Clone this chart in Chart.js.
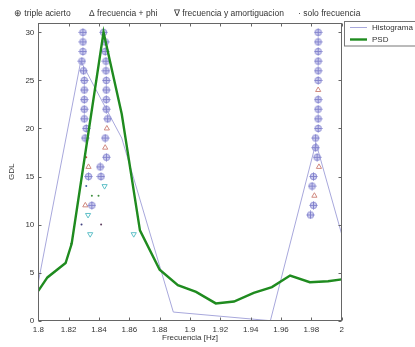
<!DOCTYPE html>
<html>
<head>
<meta charset="utf-8">
<script src="https://cdn.jsdelivr.net/npm/chart.js@4.4.0/dist/chart.umd.min.js"></script>
<style>
  html, body { margin: 0; padding: 0; background: #fff; }
</style>
</head>
<body>
<canvas id="gdlChart" width="415" height="347"></canvas>
<script>
// Histograma (light purple line)
const histFreq = [1.8, 1.828, 1.855, 1.889, 1.953, 1.983, 2.0];
const histGdl = [4, 27, 19, 0.9, 0, 18.5, 9];

// PSD (green line)
const psdFreq = [1.8, 1.806, 1.818, 1.822, 1.843, 1.855, 1.867, 1.880, 1.892, 1.904, 1.917, 1.929, 1.942, 1.954, 1.966, 1.979, 1.991, 2.0];
const psdGdl = [3.1, 4.5, 6.0, 8.0, 30, 21.5, 9.4, 5.3, 3.7, 3.0, 1.8, 2.0, 2.9, 3.5, 4.7, 4.0, 4.1, 4.3];

// triple acierto markers
const tripleFreq = [
  1.8294, 1.8294, 1.8294, 1.8287, 1.8298, 1.8303, 1.8303, 1.8303, 1.8303, 1.8303, 1.8316, 1.8309, 1.8331, 1.8353,
  1.8430, 1.8441, 1.8441, 1.8446, 1.8446, 1.8448, 1.8448, 1.8448, 1.8448, 1.8457, 1.8441, 1.8449, 1.8408, 1.8413,
  1.9845, 1.9845, 1.9845, 1.9845, 1.9845, 1.9845, 1.9845, 1.9845, 1.9845, 1.9845, 1.9828, 1.9828, 1.9838, 1.9814, 1.9805, 1.9814, 1.9794
];
const tripleGdl = [
  30, 29, 28, 27, 26, 25, 24, 23, 22, 21, 20, 19, 15, 12,
  30, 29, 28, 27, 26, 25, 24, 23, 22, 21, 19, 17, 16, 15,
  30, 29, 28, 27, 26, 25, 23, 22, 21, 20, 19, 18, 17, 15, 14, 12, 11
];

// frecuencia + phi markers
const phiFreq = [1.8331, 1.8310, 1.8452, 1.8441, 1.9845, 1.9850, 1.9820];
const phiGdl = [16, 12, 20, 18, 24, 16, 13];

// frecuencia y amortiguacion markers
const amortFreq = [1.8437, 1.8328, 1.8342, 1.8629];
const amortGdl = [14, 11, 9, 9];

// solo frecuencia markers
const soloFreq = [1.8316, 1.8316, 1.8353, 1.8397, 1.8285, 1.8414, 1.8215];
const soloGdl = [17, 14, 13, 13, 10, 10, 8];

// axis ticks
const xTicks = [1.8, 1.82, 1.84, 1.86, 1.88, 1.9, 1.92, 1.94, 1.96, 1.98, 2.0];
const xTickLabels = ['1.8', '1.82', '1.84', '1.86', '1.88', '1.9', '1.92', '1.94', '1.96', '1.98', '2'];
const yTicks = [0, 5, 10, 15, 20, 25, 30];

const FONT = 'Liberation Sans, Arial, sans-serif';
const TEXT = '#333';

function pts(xs, ys) {
  return xs.map((v, i) => ({ x: v, y: ys[i] }));
}

// circled plus marker, soft lavender like the original
function makeOPlus() {
  const c = document.createElement('canvas');
  c.width = 9; c.height = 9;
  const g = c.getContext('2d');
  g.fillStyle = 'rgba(175,175,230,0.55)';
  g.beginPath(); g.arc(4.5, 4.5, 3.6, 0, Math.PI * 2); g.fill();
  g.strokeStyle = '#9090d4'; g.lineWidth = 1;
  g.beginPath(); g.arc(4.5, 4.5, 3.2, 0, Math.PI * 2); g.stroke();
  g.strokeStyle = '#8282cc';
  g.beginPath();
  g.moveTo(4.5, 0.5); g.lineTo(4.5, 8.5);
  g.moveTo(0.5, 4.5); g.lineTo(8.5, 4.5);
  g.stroke();
  return c;
}

const soloColors = ['#c04040', '#4060a0', '#409040', '#409040', '#404080', '#604060', '#609060'];

const matlabFrame = {
  id: 'matlabFrame',
  afterDatasetsDraw(chart) {
    const { ctx, chartArea: a, scales: { x, y } } = chart;
    ctx.save();
    ctx.strokeStyle = '#666';
    ctx.lineWidth = 1;
    const L = Math.round(a.left) + 0.5, R = Math.round(a.right) - 0.5;
    const T = Math.round(a.top) + 0.5, B = Math.round(a.bottom) - 0.5;
    ctx.strokeRect(L, T, R - L, B - T);
    ctx.beginPath();
    xTicks.forEach(v => {
      const px = Math.round(x.getPixelForValue(v)) + 0.5;
      ctx.moveTo(px, B); ctx.lineTo(px, B - 3);
      ctx.moveTo(px, T); ctx.lineTo(px, T + 3);
    });
    yTicks.forEach(v => {
      const py = Math.round(y.getPixelForValue(v)) + 0.5;
      ctx.moveTo(L, py); ctx.lineTo(L + 3, py);
      ctx.moveTo(R, py); ctx.lineTo(R - 3, py);
    });
    ctx.stroke();
    ctx.restore();
  },
  afterDraw(chart) {
    const ctx = chart.ctx;
    ctx.save();
    // marker key line above the plot
    ctx.font = '8.5px ' + FONT;
    ctx.fillStyle = TEXT;
    ctx.textBaseline = 'middle';
    ctx.fillText('\u2295 triple acierto', 14, 14);
    ctx.fillText('\u0394 frecuencia + phi', 89, 14);
    ctx.fillText('\u2207 frecuencia y amortiguacion', 174, 14);
    ctx.fillText('\u00b7 solo frecuencia', 298, 14);
    // legend box
    ctx.font = '8px ' + FONT;
    ctx.strokeStyle = '#777';
    ctx.lineWidth = 1;
    ctx.fillStyle = '#fff';
    ctx.fillRect(344.5, 21.5, 80, 24.5);
    ctx.strokeRect(344.5, 21.5, 80, 24.5);
    ctx.strokeStyle = '#a8a8dc';
    ctx.lineWidth = 1;
    ctx.beginPath(); ctx.moveTo(350, 27.5); ctx.lineTo(367, 27.5); ctx.stroke();
    ctx.strokeStyle = '#1f8b1f';
    ctx.lineWidth = 2.4;
    ctx.beginPath(); ctx.moveTo(350, 39.5); ctx.lineTo(367, 39.5); ctx.stroke();
    ctx.fillStyle = TEXT;
    ctx.fillText('Histograma', 372, 27.5);
    ctx.fillText('PSD', 372, 39.5);
    ctx.restore();
  }
};

function createGdlChart() {
  const ctx = document.getElementById('gdlChart').getContext('2d');
  const oplus = makeOPlus();

  new Chart(ctx, {
    type: 'scatter',
    data: {
      datasets: [
        {
          label: 'PSD',
          data: pts(psdFreq, psdGdl),
          showLine: true,
          borderColor: '#1f8b1f',
          borderWidth: 2.4,
          pointRadius: 0,
          order: 0
        },
        {
          label: 'triple acierto',
          data: pts(tripleFreq, tripleGdl),
          pointStyle: oplus,
          pointRadius: 4,
          order: 1
        },
        {
          label: 'frecuencia + phi',
          data: pts(phiFreq, phiGdl),
          pointStyle: 'triangle',
          pointRadius: 3,
          borderColor: '#d08a80',
          backgroundColor: 'rgba(0,0,0,0)',
          borderWidth: 1,
          order: 1
        },
        {
          label: 'frecuencia y amortiguacion',
          data: pts(amortFreq, amortGdl),
          pointStyle: 'triangle',
          rotation: 180,
          pointRadius: 3,
          borderColor: '#60c0c8',
          backgroundColor: 'rgba(0,0,0,0)',
          borderWidth: 1,
          order: 1
        },
        {
          label: 'solo frecuencia',
          data: pts(soloFreq, soloGdl),
          pointStyle: 'circle',
          pointRadius: 1,
          borderWidth: 0,
          backgroundColor: c => soloColors[c.dataIndex % soloColors.length],
          order: 1
        },
        {
          label: 'Histograma',
          data: pts(histFreq, histGdl),
          showLine: true,
          borderColor: '#a8a8dc',
          borderWidth: 1,
          pointRadius: 0,
          order: 2
        }
      ]
    },
    options: {
      responsive: false,
      animation: false,
      layout: { padding: { left: 0, right: 73.3, top: 22.7, bottom: 0 } },
      plugins: {
        legend: { display: false },
        tooltip: { enabled: false }
      },
      scales: {
        x: {
          type: 'linear',
          min: 1.8,
          max: 2.0,
          afterBuildTicks: s => { s.ticks = xTicks.map(v => ({ value: v })); },
          afterFit: s => { s.height = 26.3; },
          grid: { display: false, drawTicks: false },
          border: { display: false },
          ticks: {
            padding: 4,
            autoSkip: false,
            maxRotation: 0,
            color: TEXT,
            font: { family: FONT, size: 8 },
            callback: (v, i) => xTickLabels[i]
          },
          title: {
            display: true,
            text: 'Frecuencia [Hz]',
            color: TEXT,
            font: { family: FONT, size: 8 },
            padding: { top: 4, bottom: 4 }
          }
        },
        y: {
          min: 0,
          max: 31,
          afterBuildTicks: s => { s.ticks = yTicks.map(v => ({ value: v })); },
          afterFit: s => { s.width = 38.3; },
          grid: { display: false, drawTicks: false },
          border: { display: false },
          ticks: {
            padding: 4,
            color: TEXT,
            font: { family: FONT, size: 8 },
            callback: v => String(v)
          },
          title: {
            display: true,
            text: 'GDL',
            color: TEXT,
            font: { family: FONT, size: 8 },
            padding: { top: 7, bottom: 4 }
          }
        }
      }
    },
    plugins: [matlabFrame]
  });
}

document.addEventListener('DOMContentLoaded', createGdlChart);
</script>
</body>
</html>
